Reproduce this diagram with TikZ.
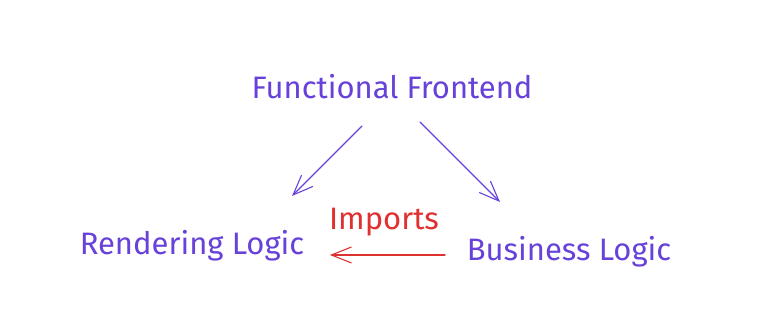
\documentclass[tikz,border=0pt]{standalone}
\usepackage{fontspec}
\setmainfont{Fira Sans}
\usepackage{tikz}
\usetikzlibrary{arrows.meta, positioning}
\definecolor{EXviolet}{RGB}{103,65,217}
\definecolor{EXred}{RGB}{224,49,49}

\begin{document}
\begin{tikzpicture}[x=1pt, y=1pt,
    label/.style={inner sep=0pt, font=\fontsize{31}{36}\selectfont},
    link/.style={line width=1.1pt, line cap=round,
      -{Straight Barb[length=20pt, width=16pt, line width=1.1pt]}}]
        \useasboundingbox[fill=white] (0,0) rectangle (776,318);
        % the three parts
        \node[label, text=EXviolet] (front) at (392,231) {Functional Frontend};
        \node[label, text=EXviolet] (render) at (192,72) {Rendering Logic};
        \node[label, text=EXviolet] (business) at (569,66) {Business Logic};
        \node[label, text=EXred] (imports) at (384,96) {Imports};
        % arrow ends
        \coordinate (frontL) at (362,192);
        \coordinate (renderT) at (292,122);
        \coordinate (frontR) at (420,196);
        \coordinate (businessT) at (500,116);
        \coordinate (businessL) at (445,63);
        \coordinate (renderR) at (330,63);
        \draw[link, EXviolet] (frontL) -- (renderT);
        \draw[link, EXviolet] (frontR) -- (businessT);
        \draw[link, EXred] (businessL) -- (renderR);
      \end{tikzpicture}
\end{document}
